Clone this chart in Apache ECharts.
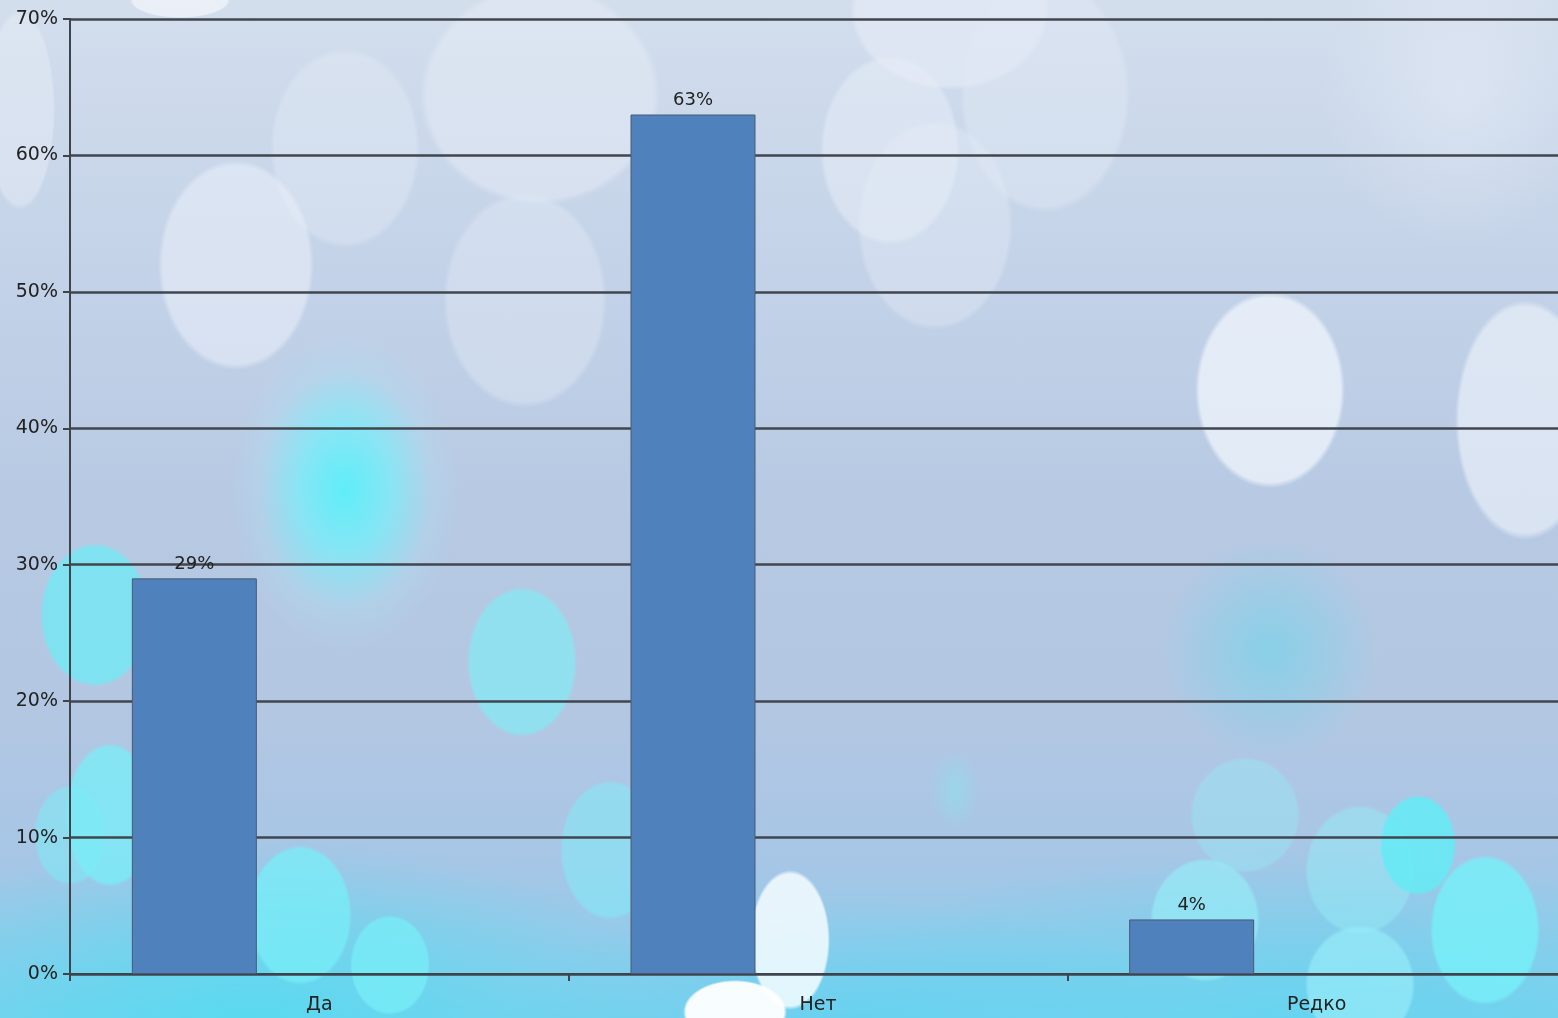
<!DOCTYPE html>
<html>
<head>
<meta charset="utf-8">
<script src="https://cdn.jsdelivr.net/npm/echarts@6/dist/echarts.min.js"></script>
<style>
html,body{margin:0;padding:0;width:1558px;height:1018px;overflow:hidden;}
body{
  background:
    radial-gradient(52px 32px at 735px 1012px, rgba(255,255,255,0.95) 0 94%, rgba(255,255,255,0) 100%),
    radial-gradient(40px 70px at 790px 940px, rgba(245,252,255,0.85) 0 94%, rgba(255,255,255,0) 100%),
    radial-gradient(38px 50px at 1418px 845px, rgba(100,235,245,0.85) 0 94%, rgba(100,235,245,0) 100%),
    radial-gradient(55px 75px at 1485px 930px, rgba(120,238,248,0.85) 0 94%, rgba(120,238,248,0) 100%),
    radial-gradient(55px 60px at 1360px 985px, rgba(150,235,248,0.7) 0 94%, rgba(150,235,248,0) 100%),
    radial-gradient(55px 65px at 1360px 870px, rgba(150,232,245,0.55) 0 94%, rgba(150,232,245,0) 100%),
    radial-gradient(55px 62px at 1205px 920px, rgba(150,238,248,0.65) 0 94%, rgba(150,238,248,0) 100%),
    radial-gradient(55px 58px at 1245px 815px, rgba(150,232,245,0.45) 0 94%, rgba(150,232,245,0) 100%),
    radial-gradient(52px 70px at 300px 915px, rgba(120,238,248,0.75) 0 94%, rgba(120,238,248,0) 100%),
    radial-gradient(40px 50px at 390px 965px, rgba(120,238,248,0.75) 0 94%, rgba(120,238,248,0) 100%),
    radial-gradient(45px 72px at 110px 815px, rgba(120,238,248,0.75) 0 94%, rgba(120,238,248,0) 100%),
    radial-gradient(36px 50px at 70px 835px, rgba(120,238,248,0.5) 0 94%, rgba(120,238,248,0) 100%),
    radial-gradient(50px 70px at 610px 850px, rgba(130,235,248,0.55) 0 94%, rgba(130,235,248,0) 100%),
    radial-gradient(55px 72px at 95px 615px, rgba(110,235,245,0.75) 0 94%, rgba(110,235,245,0) 100%),
    radial-gradient(55px 75px at 522px 662px, rgba(130,235,245,0.7) 0 94%, rgba(130,235,245,0) 100%),
    radial-gradient(115px 160px at 345px 490px, rgba(90,240,250,0.95) 0%, rgba(120,238,250,0.75) 40%, rgba(170,225,245,0.3) 75%, rgba(180,220,240,0) 100%),
    radial-gradient(110px 110px at 1270px 650px, rgba(100,215,235,0.55) 0%, rgba(120,210,235,0.3) 60%, rgba(120,210,235,0) 100%),
    radial-gradient(25px 40px at 955px 790px, rgba(140,225,240,0.6) 0%, rgba(140,225,240,0) 100%),
    radial-gradient(75px 98px at 1270px 390px, rgba(240,245,252,0.75) 0 94%, rgba(240,245,252,0) 100%),
    radial-gradient(70px 120px at 1525px 420px, rgba(240,245,252,0.6) 0 94%, rgba(240,245,252,0) 100%),
    radial-gradient(78px 105px at 236px 265px, rgba(235,240,250,0.55) 0 94%, rgba(235,240,250,0) 100%),
    radial-gradient(75px 100px at 345px 148px, rgba(225,233,245,0.45) 0 94%, rgba(225,233,245,0) 100%),
    radial-gradient(82px 108px at 525px 300px, rgba(225,233,245,0.45) 0 94%, rgba(225,233,245,0) 100%),
    radial-gradient(120px 110px at 540px 95px, rgba(230,236,246,0.5) 0 94%, rgba(230,236,246,0) 100%),
    radial-gradient(70px 95px at 890px 150px, rgba(232,238,248,0.5) 0 94%, rgba(232,238,248,0) 100%),
    radial-gradient(78px 105px at 935px 225px, rgba(225,233,245,0.45) 0 94%, rgba(225,233,245,0) 100%),
    radial-gradient(85px 118px at 1045px 95px, rgba(225,233,245,0.45) 0 94%, rgba(225,233,245,0) 100%),
    radial-gradient(100px 80px at 950px 10px, rgba(235,240,250,0.5) 0 94%, rgba(235,240,250,0) 100%),
    radial-gradient(35px 100px at 20px 110px, rgba(230,236,246,0.5) 0 94%, rgba(230,236,246,0) 100%),
    radial-gradient(50px 18px at 180px 0px, rgba(240,244,250,0.8) 0 94%, rgba(240,244,250,0) 100%),
    radial-gradient(140px 160px at 1460px 90px, rgba(235,240,250,0.45) 0%, rgba(235,240,250,0) 100%),
    radial-gradient(420px 180px at 250px 1018px, rgba(80,220,240,0.8) 0%, rgba(80,220,240,0) 100%),
    radial-gradient(500px 170px at 1300px 1018px, rgba(90,215,240,0.65) 0%, rgba(90,215,240,0) 100%),
    radial-gradient(350px 120px at 850px 1018px, rgba(90,210,240,0.6) 0%, rgba(90,210,240,0) 100%),
    linear-gradient(to bottom, #d3deed 0%, #c4d3e8 25%, #b7c9e3 50%, #b3c7e2 70%, #a6c6e6 85%, #7fd0ee 100%);
}
#chart{width:1566px;height:1018px;}
</style>
</head>
<body>
<div id="chart"></div>
<script>
var categories = ['Да', 'Нет', 'Редко'];
var values = [29, 63, 4];
var emptySeriesA = [null, null, null];
var emptySeriesB = [null, null, null];
var yMin = 0, yMax = 70, yStep = 10;

var chart = echarts.init(document.getElementById('chart'), null, {renderer: 'canvas'});
var font = 'DejaVu Sans';
chart.setOption({
  backgroundColor: 'transparent',
  animation: false,
  grid: {left: 70, right: 0, top: 19, bottom: 44, containLabel: false},
  xAxis: {
    type: 'category',
    data: categories,
    axisLine: {show: true, lineStyle: {color: '#3f444c', width: 2}},
    axisTick: {show: true, length: 7, alignWithLabel: false, lineStyle: {color: '#3f444c', width: 2}},
    axisLabel: {fontFamily: font, fontSize: 19, color: '#222', margin: 22}
  },
  yAxis: {
    type: 'value',
    min: yMin, max: yMax, interval: yStep,
    axisLine: {show: true, lineStyle: {color: '#3f444c', width: 2}},
    axisTick: {show: true, length: 7, lineStyle: {color: '#3f444c', width: 2}},
    axisLabel: {fontFamily: font, fontSize: 19, color: '#222', margin: 12, formatter: '{value}%'},
    splitLine: {show: true, lineStyle: {color: '#41464e', width: 2.5}}
  },
  series: [
    {
      type: 'bar', name: 'Ряд 1', data: values, barWidth: 125, barGap: '0%',
      itemStyle: {color: '#4f81bd', borderColor: '#4a5a70', borderWidth: 1},
      label: {show: true, position: 'top', distance: 5, formatter: '{c}%', fontFamily: font, fontSize: 18, color: '#222'}
    },
    {type: 'bar', name: 'Ряд 2', data: emptySeriesA, barWidth: 125, barGap: '0%'},
    {type: 'bar', name: 'Ряд 3', data: emptySeriesB, barWidth: 125, barGap: '0%'}
  ]
});
</script>
</body>
</html>
